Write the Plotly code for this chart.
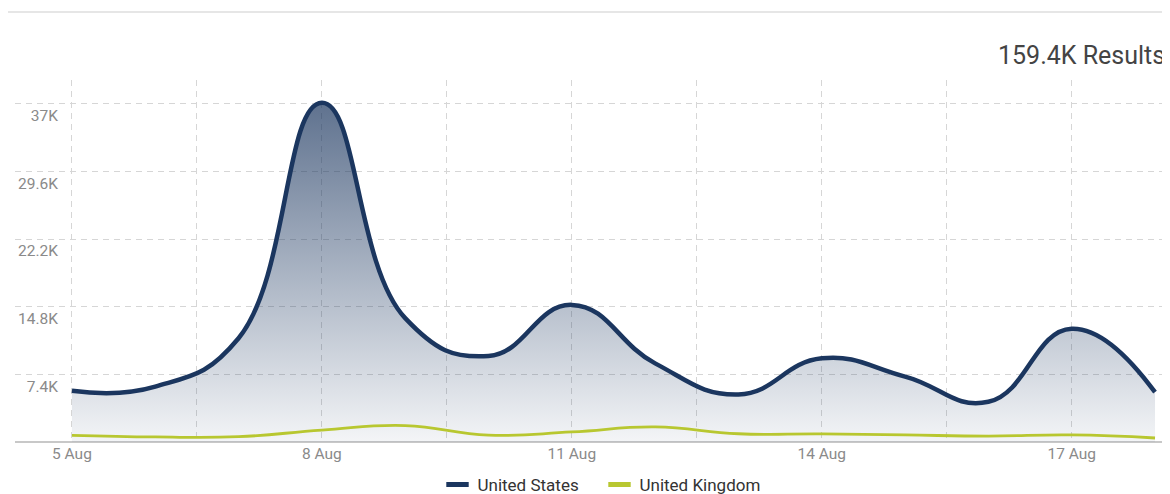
import plotly.graph_objects as go

dates = ["2024-08-05", "2024-08-06", "2024-08-07", "2024-08-08", "2024-08-09",
         "2024-08-10", "2024-08-11", "2024-08-12", "2024-08-13", "2024-08-14",
         "2024-08-15", "2024-08-16", "2024-08-17", "2024-08-18"]
us_values = [5600, 6050, 11350, 37100, 13550, 9400, 15000, 8600, 5200, 9150,
             7150, 4400, 12400, 5450]
uk_values = [730, 550, 580, 1300, 1800, 750, 1100, 1650, 900, 880,
             770, 650, 770, 440]
y_tick_vals = [7400, 14800, 22200, 29600, 37000]
y_tick_text = ["7.4K", "14.8K", "22.2K", "29.6K", "37K"]
series_names = ["United States", "United Kingdom"]
total_label = "159.4K Results"

NAVY = "#1b365f"
GREEN = "#b8c730"
GRID = "#d6d6d6"
FONT = "Roboto"
SMOOTH = 1.3

# page body has an 8px margin: figure coordinates = screen coordinates - 8
W, H = 1162, 486
L, T, PW, PH = 7, 72, 1155, 362

fig = go.Figure()
fig.add_trace(go.Scatter(
    x=dates, y=us_values, name=series_names[0], mode="lines",
    legendgroup="us", showlegend=False,
    line=dict(color=NAVY, width=4.5, shape="spline", smoothing=SMOOTH),
    fill="tozeroy",
    fillgradient=dict(type="vertical", start=0, stop=37000,
                      colorscale=[[0, "rgba(27,54,95,0.05)"], [1, "rgba(27,54,95,0.70)"]]),
))
fig.add_trace(go.Scatter(
    x=dates, y=uk_values, name=series_names[1], mode="lines",
    legendgroup="uk", showlegend=False,
    line=dict(color=GREEN, width=2.8, shape="spline", smoothing=SMOOTH),
))
# legend entries with short dash symbols
for name, color, grp in [(series_names[0], NAVY, "us"), (series_names[1], GREEN, "uk")]:
    fig.add_trace(go.Scatter(
        x=[None], y=[None], name=name, mode="markers", legendgroup=grp,
        marker=dict(symbol="line-ew", size=19, color=color,
                    line=dict(width=5, color=color)),
    ))

fig.update_layout(
    width=W, height=H,
    margin=dict(l=L, r=W - L - PW, t=T, b=H - T - PH),
    paper_bgcolor="white", plot_bgcolor="white",
    font=dict(family=FONT, color="#8a8a8a", size=15.5),
    showlegend=True,
    legend=dict(orientation="h", x=(591.5 - L) / PW, xanchor="center",
                yref="container", y=(H - 477) / H, yanchor="middle",
                font=dict(family=FONT, size=17, color="#333333"),
                itemwidth=30, tracegroupgap=0,
                entrywidth=117, entrywidthmode="pixels"),
    xaxis=dict(
        type="date", domain=[0, 1], anchor="free", position=0,
        range=["2024-08-04 07:36", "2024-08-18 04:19"],
        tick0="2024-08-05", dtick=3 * 86400000, tickformat="%-d %b",
        showgrid=True, gridcolor=GRID, griddash="6px,5px", gridwidth=1,
        minor=dict(dtick=1.5 * 86400000, showgrid=True, gridcolor=GRID,
                   griddash="6px,5px", gridwidth=1, tick0="2024-08-05"),
        showline=False, ticks="", zeroline=False,
        tickfont=dict(family=FONT, size=15.5, color="#8a8a8a"),
    ),
    yaxis=dict(
        range=[0, 39600], anchor="free", position=(50 - L) / PW,
        tickvals=y_tick_vals, ticktext=y_tick_text,
        showgrid=True, gridcolor=GRID, griddash="6px,5px", gridwidth=1,
        zeroline=True, zerolinecolor="#c8c8c8", zerolinewidth=2,
        showline=False, ticks="",
        ticklabelshift=12,
        tickfont=dict(family=FONT, size=15.5, color="#8a8a8a"),
    ),
    annotations=[dict(text=total_label, xref="paper", yref="paper",
                      x=(1159 - L) / PW, y=(T + PH - 47) / PH,
                      xanchor="right", yanchor="middle", showarrow=False,
                      font=dict(family=FONT, size=25, color="#444444"))],
    shapes=[dict(type="line", xref="paper", yref="paper",
                 x0=-L / PW, x1=1.0, y0=(T + PH - 4) / PH, y1=(T + PH - 4) / PH,
                 line=dict(color="#e6e6e6", width=2))],
)

fig.write_html("out.html")
